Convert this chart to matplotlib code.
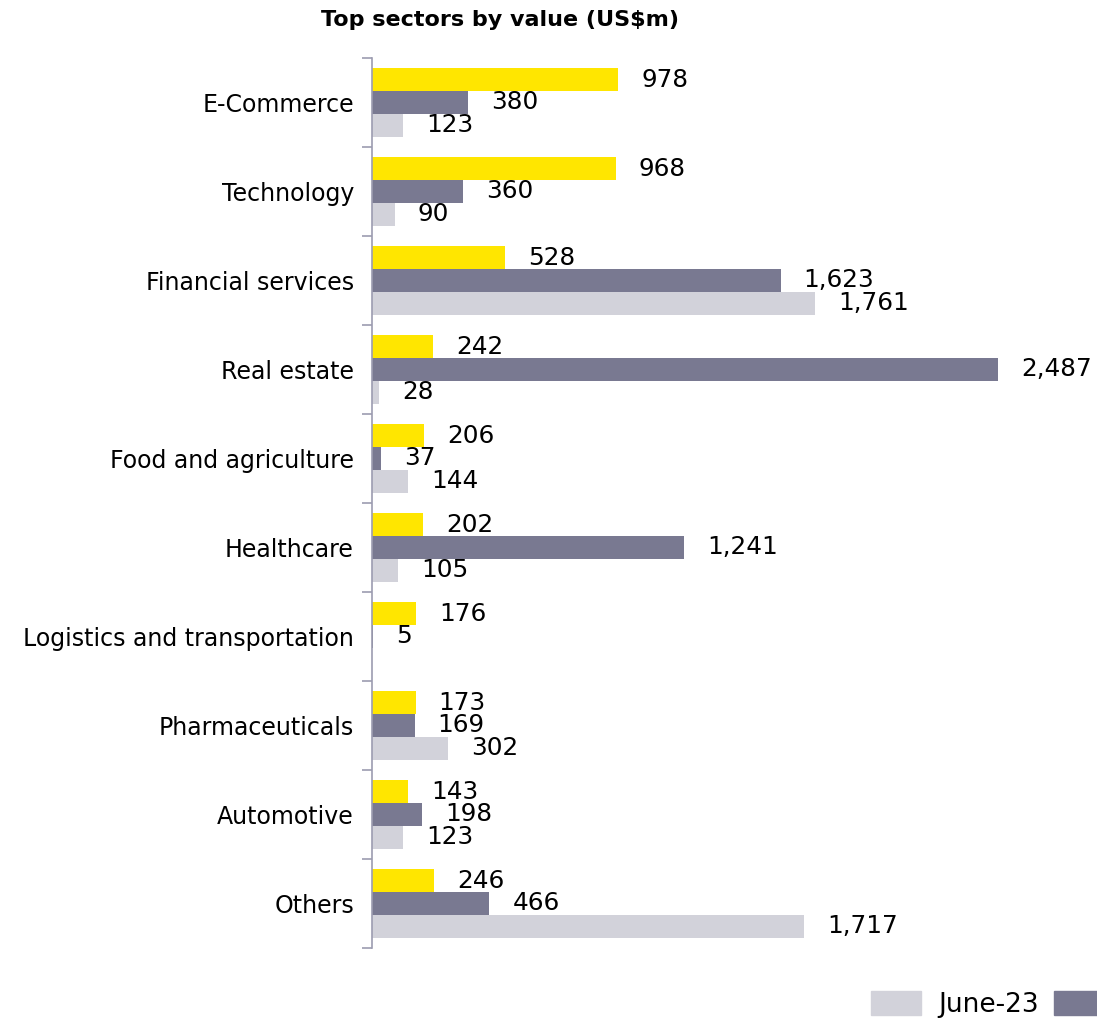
import matplotlib
matplotlib.use("Agg")
import matplotlib.pyplot as plt
import numpy as np
from matplotlib.patches import Patch

sectors = ["E-Commerce", "Technology", "Financial services", "Real estate",
           "Food and agriculture", "Healthcare", "Logistics and transportation",
           "Pharmaceuticals", "Automotive", "Others"]
yellow_vals = [978, 968, 528, 242, 206, 202, 176, 173, 143, 246]
dark_vals = [380, 360, 1623, 2487, 37, 1241, 5, 169, 198, 466]
light_vals = [123, 90, 1761, 28, 144, 105, 0, 302, 123, 1717]
light_labels = ["123", "90", "1,761", "28", "144", "105", "", "302", "123", "1,717"]

YELLOW = "#FFE600"
DARK = "#797991"
LIGHT = "#D2D2DA"
SPINE = "#9C9CB0"

plt.rcParams["font.family"] = ["DejaVu Sans"]

fig = plt.figure(figsize=(10.97, 10.18), dpi=100)
ax = fig.add_axes([372 / 1097, 70 / 1018, 1 - 372 / 1097, 890 / 1018])

y = np.arange(len(sectors))
h = 0.255
ax.barh(y - h, yellow_vals, height=h, color=YELLOW)
ax.barh(y, dark_vals, height=h, color=DARK)
ax.barh(y + h, light_vals, height=h, color=LIGHT)

fs = 17
vfs = 17.8
for i in range(len(sectors)):
    ax.annotate(f"{yellow_vals[i]:,}", (yellow_vals[i], y[i] - h), xytext=(23, 0),
                textcoords="offset pixels", va="center", ha="left", fontsize=vfs)
    ax.annotate(f"{dark_vals[i]:,}", (dark_vals[i], y[i]), xytext=(23, 0),
                textcoords="offset pixels", va="center", ha="left", fontsize=vfs)
    if light_labels[i]:
        ax.annotate(light_labels[i], (light_vals[i], y[i] + h), xytext=(23, 0),
                    textcoords="offset pixels", va="center", ha="left", fontsize=vfs)

ax.set_xlim(0, 2880)
ax.set_ylim(len(sectors) - 0.5, -0.5)
ax.set_yticks(y)
ax.set_yticklabels(sectors, fontsize=fs)
ax.set_yticks(np.arange(len(sectors) + 1) - 0.5, minor=True)
ax.tick_params(axis="y", which="major", length=0, pad=13)
ax.tick_params(axis="y", which="minor", length=7, width=1.2, color=SPINE)
ax.set_xticks([])
for side in ["top", "right", "bottom"]:
    ax.spines[side].set_visible(False)
ax.spines["left"].set_color(SPINE)
ax.spines["left"].set_linewidth(1.2)

fig.text(500 / 1097, 1 - 20 / 1018, "Top sectors by value (US\\$m)", ha="center",
         va="center", fontsize=16, fontweight="bold")

handles = [Patch(color=LIGHT), Patch(color=DARK)]
fig.legend(handles, ["June-23", ""], loc="lower left", ncol=2, frameon=False,
           bbox_to_anchor=(871 / 1097, 0 / 1018), fontsize=19, handlelength=1.9,
           handleheight=1.06, columnspacing=0.57, handletextpad=0.64,
           borderpad=0, borderaxespad=0)

fig.savefig("out.png", dpi=100)
